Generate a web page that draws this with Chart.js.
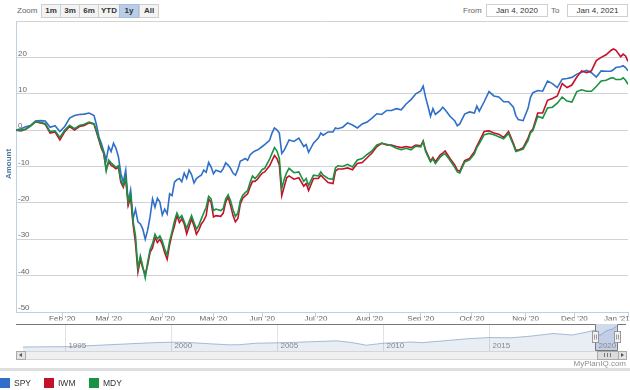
<!DOCTYPE html>
<html>
<head>
<meta charset="utf-8">
<script src="https://cdn.jsdelivr.net/npm/chart.js@4.4.1/dist/chart.umd.min.js"></script>
<style>
  html, body { margin: 0; padding: 0; background: #fff; }
  body { width: 630px; height: 390px; position: relative; overflow: hidden;
         font-family: "Liberation Sans", Arial, sans-serif; font-size: 8px; color: #666; }
  .abs { position: absolute; }
  .btn { position: absolute; top: 4px; height: 12px; line-height: 12px; text-align: center;
         background: #f3f3f3; border: 1px solid #cfcfcf; color: #333; font-weight: bold; box-sizing: content-box; }
  .btn.sel { background: #b7cde8; border-color: #a9bfd9; }
  .box { position: absolute; top: 4px; height: 11px; line-height: 11px; border: 1px solid #cfcfcf;
         color: #333; text-align: center; background: #fff; }
  .leg { position: absolute; top: 378px; width: 10px; height: 10px; }
  .legtxt { position: absolute; top: 378px; line-height: 10px; color: #333; font-size: 8.5px; }
</style>
</head>
<body>
<div class="abs" style="left:17px;top:5px;line-height:12px;">Zoom</div>
<div class="btn" style="left:41px;width:18px;">1m</div>
<div class="btn" style="left:60px;width:18px;">3m</div>
<div class="btn" style="left:79px;width:18px;">6m</div>
<div class="btn" style="left:98px;width:20px;">YTD</div>
<div class="btn sel" style="left:119px;width:18px;">1y</div>
<div class="btn" style="left:139px;width:18px;">All</div>

<div class="abs" style="left:463px;top:5px;line-height:12px;">From</div>
<div class="box" style="left:486px;width:60px;">Jan 4, 2020</div>
<div class="abs" style="left:551px;top:5px;line-height:12px;">To</div>
<div class="box" style="left:567px;width:59px;">Jan 4, 2021</div>

<div class="abs" style="left:0;top:0;width:630px;height:330px;"><canvas id="main" width="630" height="330"></canvas></div>
<div class="abs" style="left:7.5px;top:164px;transform:translate(-50%,-50%) rotate(-90deg);color:#4d759e;font-weight:bold;white-space:nowrap;">Amount</div>

<div class="abs" style="left:16px;top:324px;width:610px;height:27px;"><canvas id="nav" width="610" height="27"></canvas></div>

<!-- scrollbar -->
<div class="abs" style="left:16px;top:351px;width:608px;height:7px;background:#f0f0f0;border:1px solid #d6d6d6;"></div>
<div class="abs" style="left:16px;top:351px;width:8px;height:7px;background:#e4e4e4;border:1px solid #aaa;"></div>
<div class="abs" style="left:19px;top:353px;width:0;height:0;border-top:2px solid transparent;border-bottom:2px solid transparent;border-right:3px solid #555;"></div>
<div class="abs" style="left:597px;top:351px;width:20px;height:7px;background:#dcdcdc;border:1px solid #aaa;"></div>
<div class="abs" style="left:604px;top:353px;width:1px;height:4px;background:#777;"></div>
<div class="abs" style="left:607px;top:353px;width:1px;height:4px;background:#777;"></div>
<div class="abs" style="left:610px;top:353px;width:1px;height:4px;background:#777;"></div>
<div class="abs" style="left:618px;top:351px;width:7px;height:7px;background:#e4e4e4;border:1px solid #aaa;"></div>
<div class="abs" style="left:621px;top:353px;width:0;height:0;border-top:2px solid transparent;border-bottom:2px solid transparent;border-left:3px solid #555;"></div>

<div class="abs" style="right:4px;top:359px;line-height:9px;color:#909090;">MyPlanIQ.com</div>
<div class="abs" style="left:0;top:368px;width:630px;height:3px;background:#dedede;"></div>

<div class="leg" style="left:0;background:#2F6FC8;"></div><div class="legtxt" style="left:14px;">SPY</div>
<div class="leg" style="left:44px;background:#C4102B;"></div><div class="legtxt" style="left:58px;">IWM</div>
<div class="leg" style="left:89px;background:#1B9142;"></div><div class="legtxt" style="left:103px;">MDY</div>

<script>
// trading-day index since Jan 4, 2020 (0 = first session)
const days = [
  0, 2, 4, 6, 8, 10, 12, 14, 16, 18,
  20, 22, 24, 26, 28, 30, 32, 33, 34, 35,
  36, 37, 38, 39, 40, 41, 42, 43, 44, 45,
  46, 47, 48, 49, 50, 51, 52, 53, 54, 55,
  56, 57, 58, 59, 60, 61, 62, 63, 64, 65,
  66, 67, 68, 69, 70, 71, 72, 73, 74, 75,
  76, 77, 78, 79, 80, 81, 82, 84, 85, 86,
  87, 88, 89, 90, 91, 92, 93, 94, 95, 96,
  97, 98, 99, 100, 101, 102, 104, 105, 106, 107,
  108, 109, 110, 111, 112, 114, 116, 118, 119, 120,
  122, 124, 125, 126, 128, 130, 131, 132, 134, 136,
  138, 140, 142, 144, 146, 148, 150, 152, 154, 156,
  158, 160, 162, 164, 166, 167, 168, 169, 170, 171,
  172, 174, 175, 176, 178, 180, 181, 182, 184, 186,
  188, 189, 190, 192, 194, 196, 198, 200, 202, 204,
  205, 206, 208, 210, 211, 212, 214, 216, 218, 220,
  222, 224, 226, 228, 230, 232, 234, 236, 238, 240,
  242, 244, 245, 246, 248, 249, 250, 251
];

const spy = [
  0, 0.4, 0.9, 1.3, 2.5, 2.6, 2.5, 0.8, 1.2, -0.4,
  1.0, 3.3, 4.0, 4.3, 4.4, 4.7, 4.0, 1.5, -1.8, -3.6,
  -5.9, -8.2, -4.5, -5.9, -3.6, -5.0, -7.3, -11.9, -14.3, -11.0,
  -19.8, -16.5, -24.4, -21.8, -25.2, -25.8, -27.2, -30.0, -27.5, -23.8,
  -18.9, -21.2, -18.7, -19.8, -23.3, -21.7, -23.0, -17.5, -18.0, -14.3,
  -13.6, -13.3, -14.2, -11.8, -13.3, -11.0, -12.2, -14.5, -13.3, -12.8,
  -12.4, -11.0, -11.6, -8.9, -10.1, -12.0, -11.0, -11.5, -10.6, -9.0,
  -9.6, -10.5, -11.8, -12.4, -10.8, -8.5, -8.2, -7.8, -8.3, -6.8,
  -6.2, -5.7, -5.5, -5.0, -4.5, -4.0, -2.8, -0.8, 0.6, 0.1,
  -0.8, -6.4, -5.5, -4.1, -2.7, -3.1, -2.2, -4.5, -4.0, -6.1,
  -3.6, -2.2, -0.8, -1.4, -0.5, -0.5, 0.6, 0.4, 0.8, 2.0,
  1.4, 0.6, 1.7, 2.2, 3.3, 4.5, 4.3, 5.4, 5.4, 5.9,
  5.6, 7.2, 8.4, 10.0, 10.8, 12.1, 9.0, 6.5, 3.8, 5.9,
  4.3, 5.4, 6.3, 5.6, 3.8, 2.5, 1.2, 1.7, 4.4, 5.0,
  4.7, 6.6, 5.2, 7.8, 10.6, 9.4, 9.1, 7.8, 7.8, 6.3,
  4.0, 2.9, 2.6, 6.0, 9.0, 10.3, 10.9, 10.7, 13.5, 12.8,
  11.7, 14.0, 14.2, 14.5, 15.4, 15.9, 16.4, 15.8, 14.6, 16.3,
  16.2, 16.2, 16.6, 17.2, 17.4, 17.7, 17.2, 16.3
];

const iwm = [
  0, -0.2, 0.2, 1.2, 2.3, 2.0, 1.6, -0.8, -0.5, -2.7,
  -0.4, 1.0, 0.0, 1.0, 1.3, 2.0, 1.6, -0.5, -2.7, -5.0,
  -6.5, -10.8, -8.8, -9.6, -10.1, -10.6, -10.2, -14.3, -15.7, -13.4,
  -20.7, -18.4, -25.8, -31.0, -39.0, -35.5, -38.0, -39.7, -37.0, -33.5,
  -32.4, -29.5, -30.9, -30.0, -31.4, -33.7, -35.5, -31.5, -28.6, -26.3,
  -23.5, -25.4, -24.4, -25.8, -28.5, -26.5, -24.4, -26.3, -28.6, -27.4,
  -25.8, -24.9, -23.5, -19.0, -19.8, -23.9, -23.5, -23.7, -22.8, -19.8,
  -18.4, -20.7, -23.5, -25.2, -24.3, -20.3, -18.7, -18.1, -17.5, -15.6,
  -14.1, -14.1, -13.5, -12.6, -11.8, -11.5, -9.8, -8.4, -7.0, -7.8,
  -9.6, -18.0, -15.6, -13.1, -12.6, -13.5, -13.1, -15.4, -14.7, -16.6,
  -13.3, -13.3, -12.4, -13.1, -14.4, -14.7, -11.3, -10.7, -10.7, -10.4,
  -10.9, -9.2, -8.9, -7.6, -6.3, -4.5, -3.6, -4.1, -4.1, -4.5,
  -4.8, -4.5, -4.8, -4.1, -4.3, -3.0, -5.5, -7.0, -8.5, -7.5,
  -8.7, -6.8, -6.3, -5.7, -7.8, -9.6, -11.0, -11.3, -8.4, -7.8,
  -5.9, -4.4, -3.1, -0.4, -0.2, -0.8, -1.1, -2.0, -0.4, -3.6,
  -5.5, -5.5, -4.8, -2.2, -0.4, 0.3, 4.7, 4.7, 8.2, 8.7,
  9.4, 12.8, 11.7, 12.4, 14.6, 16.3, 15.8, 16.3, 19.1, 20.0,
  20.7, 21.9, 22.3, 22.0, 20.2, 20.9, 20.4, 18.9
];

const mdy = [
  0, 0.0, 0.3, 1.2, 2.4, 2.1, 1.8, -0.4, -0.2, -2.0,
  0.0, 1.3, 0.4, 1.3, 1.6, 2.2, 1.8, -0.2, -2.4, -4.5,
  -6.2, -11.2, -8.2, -9.0, -9.6, -10.2, -9.8, -13.8, -15.2, -12.9,
  -19.8, -17.5, -25.0, -29.0, -38.0, -34.6, -37.5, -40.6, -36.3, -32.8,
  -31.2, -28.6, -29.9, -29.1, -30.5, -32.8, -34.3, -30.5, -27.9, -24.9,
  -22.8, -24.3, -23.5, -25.2, -27.0, -25.2, -23.5, -25.4, -27.2, -26.1,
  -24.4, -22.8, -21.2, -18.2, -18.9, -22.1, -21.7, -22.1, -21.5, -18.9,
  -17.8, -19.4, -21.9, -23.7, -22.8, -19.4, -17.9, -17.2, -16.6, -14.4,
  -12.6, -13.3, -12.6, -11.7, -10.8, -10.5, -8.0, -6.4, -4.8, -5.7,
  -7.8, -16.1, -13.5, -11.7, -10.5, -11.7, -11.5, -14.1, -13.3, -15.2,
  -12.4, -12.6, -11.5, -12.4, -13.3, -13.5, -10.4, -9.8, -10.0, -9.4,
  -10.1, -8.2, -7.8, -6.7, -5.7, -4.1, -3.6, -3.9, -4.3, -5.0,
  -5.4, -5.0, -5.4, -4.4, -4.6, -3.1, -5.9, -7.3, -8.7, -7.9,
  -9.2, -7.4, -6.8, -6.5, -8.3, -10.3, -11.5, -11.8, -8.8, -8.2,
  -6.5, -4.8, -3.7, -1.3, -0.9, -1.3, -1.8, -2.4, -0.9, -4.1,
  -5.9, -5.7, -5.2, -2.8, -0.8, -0.1, 3.8, 3.3, 6.1, 6.3,
  7.4, 9.1, 8.0, 7.7, 10.6, 11.1, 10.7, 10.7, 12.0, 13.5,
  13.7, 14.3, 14.4, 13.9, 13.9, 14.4, 13.7, 12.6
];

// first session of each month (trading-day index) and its label
const monthTicks = [19, 38, 60, 81, 101, 123, 145, 166, 187, 209, 229, 251];
const monthLabels = ["Feb '20", "Mar '20", "Apr '20", "May '20", "Jun '20", "Jul '20",
                     "Aug '20", "Sep '20", "Oct '20", "Nov '20", "Dec '20", "Jan '21"];
const yTicks = [-50, -40, -30, -20, -10, 0, 10, 20, 30];

// navigator (long history, relative height)
const navYears = [1993, 1994, 1995, 1996, 1997, 1998, 1999, 2000, 2000.7, 2001.5,
                  2002.7, 2003.2, 2004, 2005, 2006, 2007.8, 2008.5, 2009.2, 2010, 2011.3,
                  2011.8, 2013, 2014, 2015, 2016, 2017, 2018, 2018.9, 2019.5, 2020,
                  2020.2, 2020.5, 2020.8, 2021];
const navValues = [4, 4.2, 4.3, 5.2, 6.2, 7.2, 8.2, 8.8, 8.7, 7.6,
                   6.2, 6.3, 7.8, 8.2, 8.8, 10.2, 8.5, 5.8, 7.8, 9.0,
                   8.3, 10.5, 12.3, 13.5, 13.2, 15.0, 17.5, 16.0, 18.5, 21.0,
                   15.5, 20.0, 22.0, 25.0];
const navYearTicks = [1995, 2000, 2005, 2010, 2015, 2020];
const navRange = [2020, 2021];

const FONT = '"Liberation Sans", Arial, sans-serif';

function pts(vals) {
  return vals.map((v, i) => ({ x: days[i], y: v }));
}

new Chart(document.getElementById('main').getContext('2d'), {
  type: 'line',
  data: {
    datasets: [
      { label: 'SPY', data: pts(spy), borderColor: '#2F6FC8', order: 2 },
      { label: 'IWM', data: pts(iwm), borderColor: '#C4102B', order: 1 },
      { label: 'MDY', data: pts(mdy), borderColor: '#1B9142', order: 0 }
    ]
  },
  options: {
    responsive: false,
    animation: false,
    elements: { point: { radius: 0 }, line: { borderWidth: 1.6, tension: 0 } },
    plugins: { legend: { display: false }, tooltip: { enabled: false } },
    layout: { padding: { left: 12, right: 2, top: 21, bottom: 9.4 } },
    scales: {
      x: {
        type: 'linear', min: 0, max: 251,
        afterBuildTicks: s => { s.ticks = monthTicks.map(v => ({ value: v })); },
        afterFit: s => { s.paddingLeft = 0; s.paddingRight = 0; },
        ticks: {
          autoSkip: false, maxRotation: 0, padding: -3, color: '#666',
          font: { family: FONT, size: 8 },
          callback: v => {
            const i = monthTicks.indexOf(v);
            if (i < 0) return '';
            // last label is pushed left so it stays inside the page
            return i === monthTicks.length - 1 ? monthLabels[i] + '\u00a0'.repeat(10) : monthLabels[i];
          }
        },
        grid: { drawOnChartArea: false, drawTicks: true, tickLength: 5, color: '#C0D0E0' },
        border: { color: '#C0D0E0' }
      },
      y: {
        min: -50, max: 30,
        afterBuildTicks: s => { s.ticks = yTicks.map(v => ({ value: v })); },
        ticks: {
          mirror: true, padding: 2, labelOffset: -4, color: '#666',
          font: { family: FONT, size: 8 },
          callback: v => (v === 30 ? '' : String(v))
        },
        grid: { color: '#D3D3D3', drawTicks: false },
        border: { color: '#C0D0E0' }
      }
    }
  }
});

const navDecor = {
  id: 'navDecor',
  afterDatasetsDraw(chart) {
    const { ctx, chartArea: a, scales: { x } } = chart;
    const x0 = Math.round(x.getPixelForValue(navRange[0])) + 0.5;
    const x1 = Math.round(x.getPixelForValue(navRange[1])) + 0.5;
    ctx.save();
    ctx.fillStyle = 'rgba(102,133,194,0.3)';
    ctx.fillRect(x0, a.top, x1 - x0, a.bottom - a.top);

    ctx.strokeStyle = '#777';
    ctx.lineWidth = 1;
    ctx.beginPath();
    ctx.moveTo(a.left, a.top + 0.5);
    ctx.lineTo(x0, a.top + 0.5);
    ctx.lineTo(x0, a.bottom - 0.5);
    ctx.lineTo(x1, a.bottom - 0.5);
    ctx.lineTo(x1, a.top + 0.5);
    ctx.lineTo(a.right, a.top + 0.5);
    ctx.stroke();

    ctx.fillStyle = '#888';
    ctx.font = '8px ' + FONT;
    ctx.textBaseline = 'middle';
    navYearTicks.forEach(yr => {
      ctx.fillText(String(yr), x.getPixelForValue(yr) + 3, a.top + 21.5);
    });

    [x0, x1].forEach(hx => {
      const mid = (a.top + a.bottom) / 2;
      ctx.fillStyle = '#f2f2f2';
      ctx.strokeStyle = '#999';
      ctx.fillRect(hx - 3, mid - 6, 6, 11);
      ctx.strokeRect(hx - 3, mid - 6, 6, 11);
      ctx.beginPath();
      ctx.moveTo(hx - 1, mid - 3); ctx.lineTo(hx - 1, mid + 2);
      ctx.moveTo(hx + 1, mid - 3); ctx.lineTo(hx + 1, mid + 2);
      ctx.stroke();
    });
    ctx.restore();
  }
};

new Chart(document.getElementById('nav').getContext('2d'), {
  type: 'line',
  data: {
    datasets: [{
      data: navYears.map((yr, i) => ({ x: yr, y: navValues[i] })),
      fill: 'origin',
      backgroundColor: 'rgba(69,114,167,0.12)',
      borderColor: 'rgba(69,114,167,0.45)',
      borderWidth: 1, pointRadius: 0, tension: 0
    }]
  },
  options: {
    responsive: false,
    animation: false,
    layout: { padding: 0 },
    plugins: { legend: { display: false }, tooltip: { enabled: false } },
    scales: {
      x: {
        type: 'linear', min: 1992.67, max: 2021.44,
        afterBuildTicks: s => { s.ticks = navYearTicks.map(v => ({ value: v })); },
        ticks: { display: false },
        grid: { color: '#E2E2E2', drawTicks: false },
        border: { display: false }
      },
      y: { min: 0, max: 27, display: false }
    }
  },
  plugins: [navDecor]
});
</script>
</body>
</html>
